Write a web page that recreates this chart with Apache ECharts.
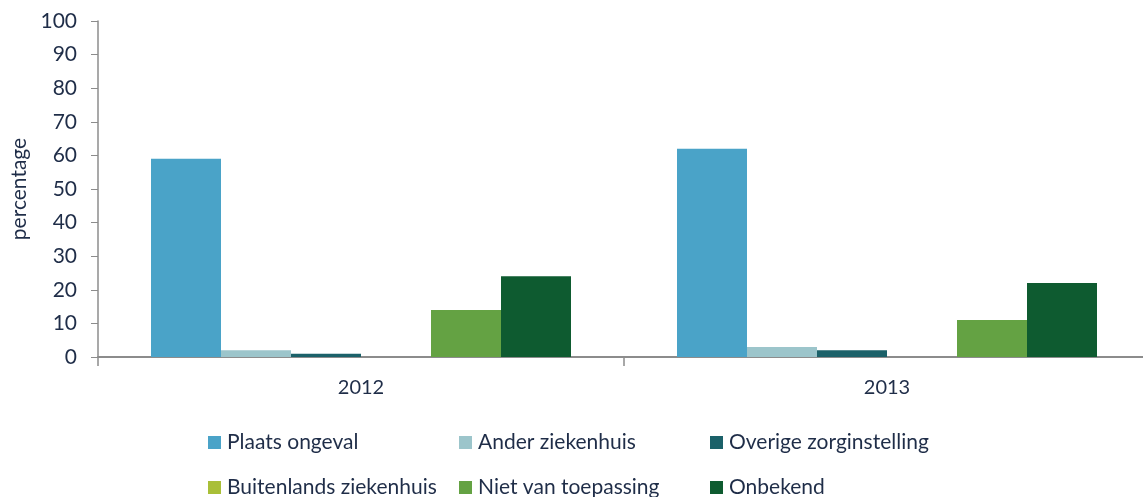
<!DOCTYPE html>
<html>
<head>
<meta charset="utf-8">
<script src="https://cdn.jsdelivr.net/npm/echarts@6/dist/echarts.min.js"></script>
<style>
  html, body { margin: 0; padding: 0; background: #fff; }
  #chart { width: 1143px; height: 497px; }
</style>
</head>
<body>
<div id="chart"></div>
<script>
// jaren en percentages per bestemming
var years = ['2012', '2013'];
var seriesNames = ['Plaats ongeval', 'Ander ziekenhuis', 'Overige zorginstelling',
  'Buitenlands ziekenhuis', 'Niet van toepassing', 'Onbekend'];
var plaatsOngeval = [59, 62];
var anderZiekenhuis = [2, 3];
var overigeZorg = [1, 2];
var buitenlands = [0, 0];
var nietVanToepassing = [14, 11];
var onbekend = [24, 22];
var yTicks = [0, 10, 20, 30, 40, 50, 60, 70, 80, 90, 100];

var colors = ['#4aa3c8', '#9cc5cb', '#1b6169', '#a9bf38', '#64a243', '#0e5b30'];
var values = [plaatsOngeval, anderZiekenhuis, overigeZorg, buitenlands, nietVanToepassing, onbekend];
var txt = '#1f2d48';
var font = 'Lato';

var chart = echarts.init(document.getElementById('chart'));

var series = seriesNames.map(function (name, i) {
  return {
    name: name,
    type: 'bar',
    data: values[i],
    barWidth: 70,
    barGap: '0%',
    itemStyle: { color: colors[i] }
  };
});

// legenda: 3 kolommen, 2 rijen, elk item apart geplaatst
var legendLeft = [208, 459, 710];
var legendTop = [432, 477];
var legends = seriesNames.map(function (name, i) {
  return {
    data: [name],
    left: legendLeft[i % 3],
    top: legendTop[Math.floor(i / 3)],
    padding: 0,
    itemWidth: 13,
    itemHeight: 13,
    icon: 'rect',
    selectedMode: false,
    textStyle: { color: txt, fontFamily: font, fontSize: 21, padding: [0, 0, 0, 1] }
  };
});

var option = {
  animation: false,
  color: colors,
  grid: { left: 98, right: -7, top: 21, bottom: 140, outerBoundsMode: 'none' },
  legend: legends,
  xAxis: {
    type: 'category',
    data: years,
    axisLine: { lineStyle: { color: '#8c8c8c', width: 2 } },
    axisTick: { show: true, length: 9, lineStyle: { color: '#8c8c8c', width: 1.5 } },
    axisLabel: { color: txt, fontFamily: font, fontSize: 20, margin: 21 }
  },
  yAxis: {
    type: 'value',
    min: yTicks[0],
    max: yTicks[yTicks.length - 1],
    interval: 10,
    name: 'percentage',
    nameLocation: 'middle',
    nameGap: 67,
    nameTextStyle: { color: txt, fontFamily: font, fontSize: 21 },
    axisLine: { show: true, lineStyle: { color: '#8c8c8c', width: 1.5 } },
    axisTick: { show: true, length: 7, lineStyle: { color: '#8c8c8c' } },
    splitLine: { show: false },
    axisLabel: { color: txt, fontFamily: font, fontSize: 21, margin: 21 }
  },
  series: series
};

chart.setOption(option);
</script>
</body>
</html>
